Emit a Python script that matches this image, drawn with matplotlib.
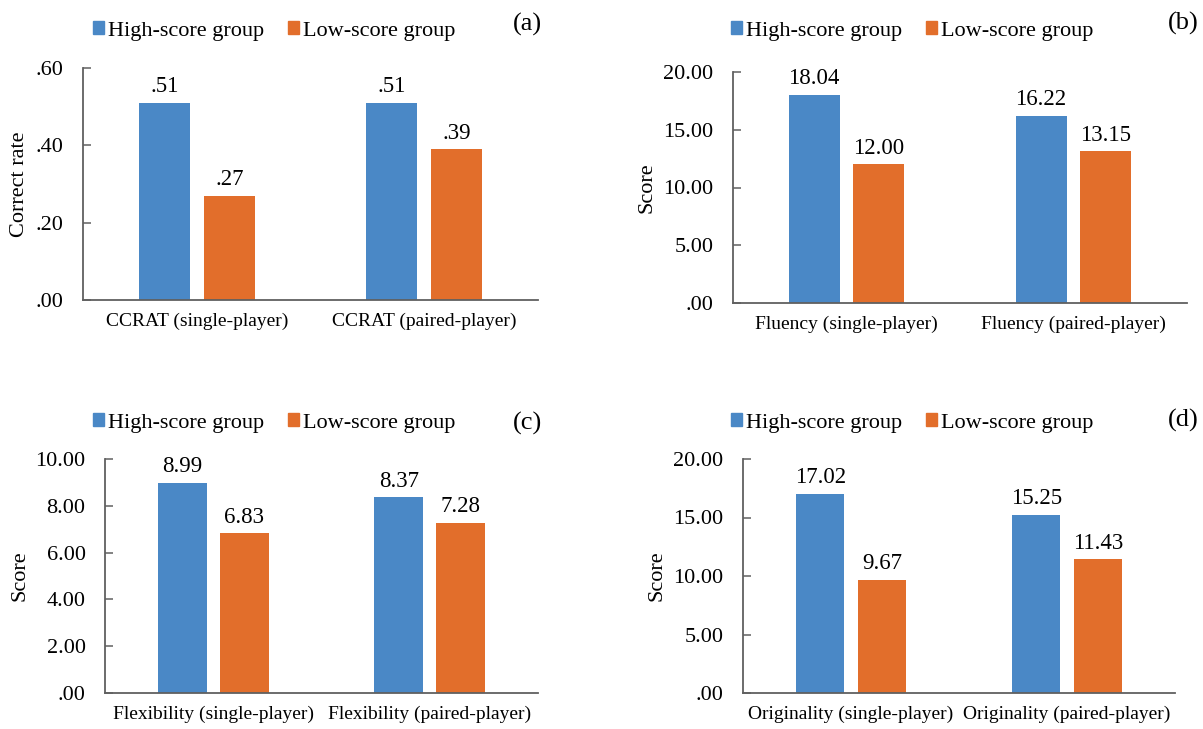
import matplotlib.pyplot as plt
import matplotlib.ticker as mticker
from matplotlib.patches import Patch

plt.rcParams['font.family'] = ['Liberation Serif', 'DejaVu Serif']

# data
groups = ['High-score group', 'Low-score group']
cats_a = ['CCRAT (single-player)', 'CCRAT (paired-player)']
high_a = [0.51, 0.51]
low_a = [0.27, 0.39]
cats_b = ['Fluency (single-player)', 'Fluency (paired-player)']
high_b = [18.04, 16.22]
low_b = [12.00, 13.15]
cats_c = ['Flexibility (single-player)', 'Flexibility (paired-player)']
high_c = [8.99, 8.37]
low_c = [6.83, 7.28]
cats_d = ['Originality (single-player)', 'Originality (paired-player)']
high_d = [17.02, 15.25]
low_d = [9.67, 11.43]

BLUE = '#4a88c6'
ORANGE = '#e26e2b'
AXC = '#606060'
W, H = 1203, 729


def fmt(v):
    s = '%.2f' % v
    if s.startswith('0'):
        s = s[1:]
    return s


def panel(box, cats, high, low, ymax, step, ylabel, ylab_x, tag, leg_xy, tag_xy):
    fig = plt.gcf()
    l, r, t, b = box
    ax = fig.add_axes([l / W, 1 - b / H, (r - l) / W, (b - t) / H])
    x = range(len(cats))
    off = 0.143
    bw = 0.225
    b1 = ax.bar([i - off for i in x], high, bw, color=BLUE)
    b2 = ax.bar([i + off for i in x], low, bw, color=ORANGE)
    ax.bar_label(b1, labels=[fmt(v) for v in high], padding=4, fontsize=16.5)
    ax.bar_label(b2, labels=[fmt(v) for v in low], padding=4, fontsize=16.5)
    ax.set_xlim(-0.5, 1.5)
    ax.set_ylim(0, ymax)
    ax.yaxis.set_major_locator(mticker.MultipleLocator(step))
    ax.yaxis.set_major_formatter(mticker.FuncFormatter(lambda v, p: fmt(v)))
    ax.set_xticks(list(x))
    ax.set_xticklabels(cats, fontsize=14)
    ax.tick_params(axis='x', length=0, pad=9)
    ax.tick_params(axis='y', labelsize=16, direction='in', length=6,
                   width=1.1, color=AXC, pad=14)
    for s in ['top', 'right']:
        ax.spines[s].set_visible(False)
    for s in ['left', 'bottom']:
        ax.spines[s].set_color(AXC)
        ax.spines[s].set_linewidth(1.3)
    fig.text(ylab_x / W, 1 - (t + b) / 2 / H, ylabel, fontsize=16,
             rotation=90, ha='center', va='center')
    handles = [Patch(color=BLUE), Patch(color=ORANGE)]
    fig.legend(handles, groups, loc='center',
               bbox_to_anchor=(leg_xy[0] / W, 1 - leg_xy[1] / H),
               ncol=2, frameon=False, fontsize=16,
               handlelength=0.5, handleheight=0.5, handletextpad=0.15,
               columnspacing=1.1, borderpad=0, borderaxespad=0)
    fig.text(tag_xy[0] / W, 1 - tag_xy[1] / H, tag, fontsize=19,
             ha='center', va='center')
    return ax


fig = plt.figure(figsize=(W / 100, H / 100), dpi=100)

panel((83, 538, 68, 300), cats_a, high_a, low_a, 0.6, 0.2, 'Correct rate', 20,
      '(a)', (274, 31), (527, 24))
panel((733, 1187, 72, 303), cats_b, high_b, low_b, 20, 5, 'Score', 647,
      '(b)', (912, 31), (1183, 23))
panel((105, 538, 459, 693), cats_c, high_c, low_c, 10, 2, 'Score', 20,
      '(c)', (274, 423), (527, 423))
panel((743, 1175, 459, 693), cats_d, high_d, low_d, 20, 5, 'Score', 657,
      '(d)', (912, 423), (1183, 420))

fig.savefig('out.png', dpi=100)
